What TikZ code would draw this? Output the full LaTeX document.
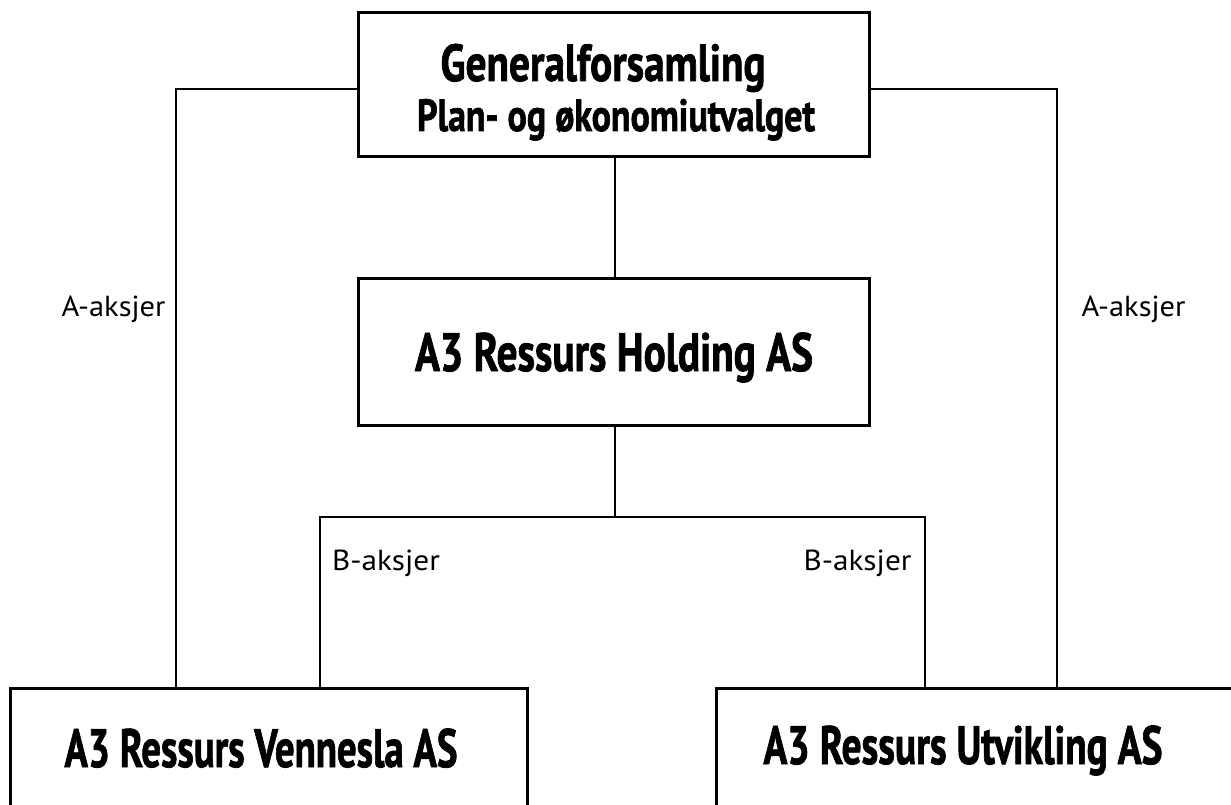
\documentclass[tikz,border=0pt]{standalone}
\usepackage{fontspec}
\setmainfont{PT Sans}
\newfontfamily\hfont{PT Sans}[BoldFeatures={FakeBold=1.6}]
\usepackage{graphicx}
\newcommand\fitw[2]{\resizebox{#1}{\height}{#2}}
\newcommand\hd[1]{\hfont\fontsize{#1}{#1}\selectfont\bfseries}
\begin{document}
\begin{tikzpicture}[x=1pt,y=-1pt,
  box/.style={draw, line width=3pt, inner sep=0pt},
  conn/.style={line width=2.4pt},
  txt/.style={inner sep=0pt, anchor=base},
  lab/.style={inner sep=0pt, anchor=base}]
\clip (0,0) rectangle (1231,805);
% boxes
\node[box, minimum width=511pt, minimum height=144pt] (gen) at (613.5,85) {};
\node[box, minimum width=511pt, minimum height=147pt] (hold) at (613.5,351.5) {};
\node[box, minimum width=517pt, minimum height=126pt] (ven) at (268.5,751) {};
\node[box, minimum width=517pt, minimum height=126pt] (utv) at (974.5,751) {};
% texts
\node[txt] (genT) at (603,81) {\fitw{325pt}{\hd{52}Generalforsamling}};
\node[txt] (planT) at (616,131) {\fitw{398pt}{\hd{45}Plan- og økonomiutvalget}};
\node[txt] (holdT) at (614,371) {\fitw{398pt}{\hd{54}A3 Ressurs Holding AS}};
\node[txt] (venT) at (261,767) {\fitw{393pt}{\hd{54}A3 Ressurs Vennesla AS}};
\node[txt] (utvT) at (963,764) {\fitw{399pt}{\hd{54}A3 Ressurs Utvikling AS}};
% connector anchor points
\coordinate (vA) at (176,688);
\coordinate (vB) at (320,688);
\coordinate (uB) at (925,688);
\coordinate (uA) at (1057,688);
\coordinate (br) at (615,517);
\coordinate (gy) at (0,89);
% connectors
\draw[conn] (gen.west |- gy) -| (vA);
\draw[conn] (gen.east |- gy) -| (uA);
\draw[conn] (gen.south -| br) -- (hold.north -| br);
\draw[conn] (hold.south -| br) -- (br);
\draw[conn] (vB) |- (br) -| (uB);
% labels
\node[lab] (lA) at (113.5,316) {\fitw{104pt}{\fontsize{29}{30}\selectfont A-aksjer}};
\node[lab] (rA) at (1133.5,316) {\fitw{104pt}{\fontsize{29}{30}\selectfont A-aksjer}};
\node[lab] (lB) at (386,570) {\fitw{108pt}{\fontsize{29}{30}\selectfont B-aksjer}};
\node[lab] (rB) at (857.5,570) {\fitw{108pt}{\fontsize{29}{30}\selectfont B-aksjer}};
\end{tikzpicture}
\end{document}
